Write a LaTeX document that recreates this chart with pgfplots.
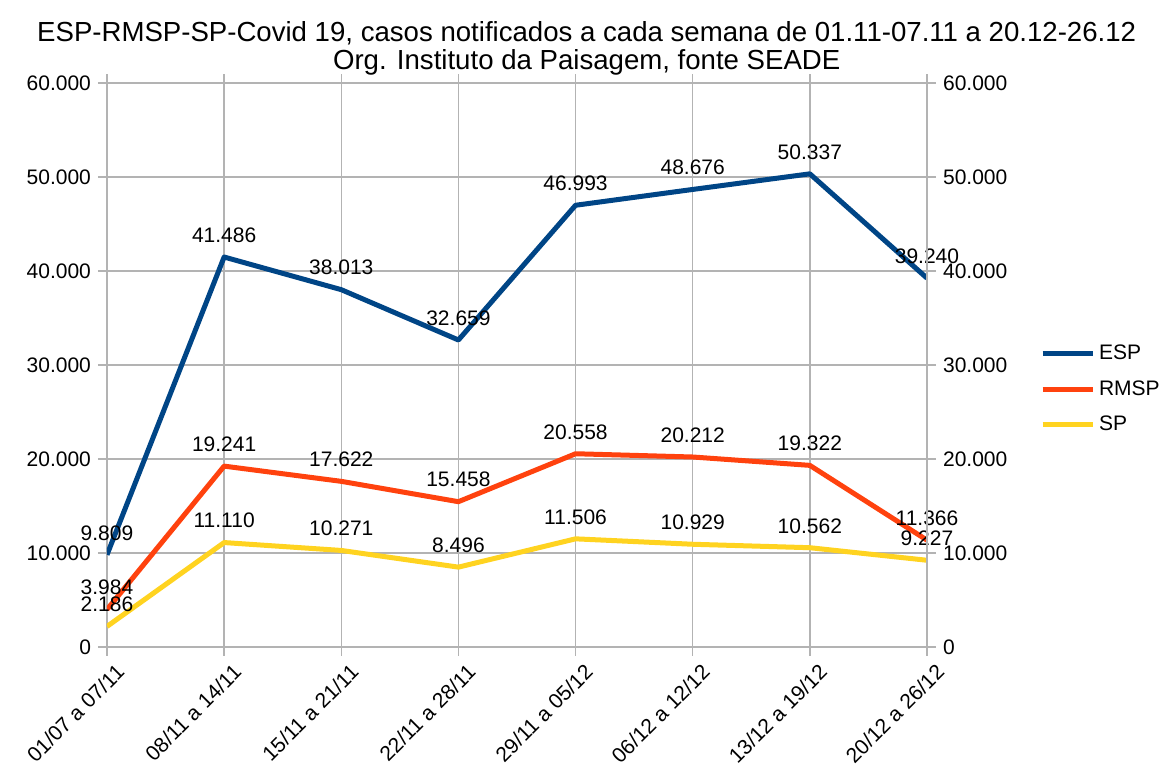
\documentclass[border=0pt]{standalone}
\usepackage{pgfplots}
\pgfplotsset{compat=1.18}
\usepackage{fontspec}
\setmainfont{Liberation Sans}

\definecolor{esp}{HTML}{004586}
\definecolor{rmsp}{HTML}{FF420E}
\definecolor{sp}{HTML}{FFD320}
\definecolor{gridc}{HTML}{B3B3B3}

\pgfplotsset{
  base/.style={
    width=410pt, height=282pt, scale only axis,
    at={(0,0)}, anchor=south west,
    xmin=0, xmax=7, ymin=0, ymax=60000,
    ytick={0,10000,...,60000},
    scaled y ticks=false,
    /pgf/number format/.cd, fixed, precision=0, 1000 sep={.}, assume math mode=true,
    /pgfplots/.cd,
    tick label style={font=\fontsize{10.5}{12.6}\selectfont, text=black},
    tick align=outside, major tick length=4.5pt,
    tick style={gridc, line width=0.75pt},
    axis line style={gridc, line width=0.75pt},
  }
}

\begin{document}
\begin{tikzpicture}
\begin{axis}[base, name=main,
  axis y line*=left,
  xtick={0,...,7},
  xticklabels={01/07 a 07/11,08/11 a 14/11,15/11 a 21/11,22/11 a 28/11,29/11 a 05/12,06/12 a 12/12,13/12 a 19/12,20/12 a 26/12},
  xticklabel style={rotate=45, anchor=north east, inner sep=1pt, xshift=1.5pt, yshift=-4pt},
  grid=major, grid style={gridc, line width=0.75pt},
  title={ESP-RMSP-SP-Covid 19, casos notificados a cada semana de 01.11-07.11 a 20.12-26.12\\Org. Instituto da Paisagem, fonte SEADE},
  title style={at={(0.585,1)}, anchor=south, yshift=-2.5pt, inner sep=0pt, align=center,
    font=\fontsize{13.8}{14}\selectfont},
  nodes near coords={\pgfmathprintnumber{\pgfplotspointmeta}},
  nodes near coords style={font=\fontsize{10.5}{12.6}\selectfont, text=black, anchor=south, inner sep=0pt, yshift=6pt},
  point meta=y,
  legend style={at={(1.13,0.457)}, anchor=west, draw=none, fill=none,
    font=\fontsize{10.5}{12.6}\selectfont, row sep=5pt},
  legend cell align=left,
  legend image code/.code={\draw[#1] (0pt,0pt) -- (25pt,0pt);},
  every axis plot/.append style={line width=2.5pt, line join=round, mark=none},
]
\addplot[esp] coordinates {(0,9809) (1,41486) (2,38013) (3,32659) (4,46993) (5,48676) (6,50337) (7,39240)};
\addplot[rmsp] coordinates {(0,3984) (1,19241) (2,17622) (3,15458) (4,20558) (5,20212) (6,19322) (7,11366)};
\addplot[sp] coordinates {(0,2186) (1,11110) (2,10271) (3,8496) (4,11506) (5,10929) (6,10562) (7,9227)};
\legend{ESP,RMSP,SP}
\end{axis}
\begin{axis}[base,
  axis x line=none,
  axis y line*=right,
  yticklabel style={anchor=west},
]
\end{axis}
\pgfresetboundingbox
\path[use as bounding box] ([shift={(-53.5pt,-61pt)}]main.south west) rectangle ([shift={(528pt,323.5pt)}]main.south west);
\end{tikzpicture}
\end{document}
